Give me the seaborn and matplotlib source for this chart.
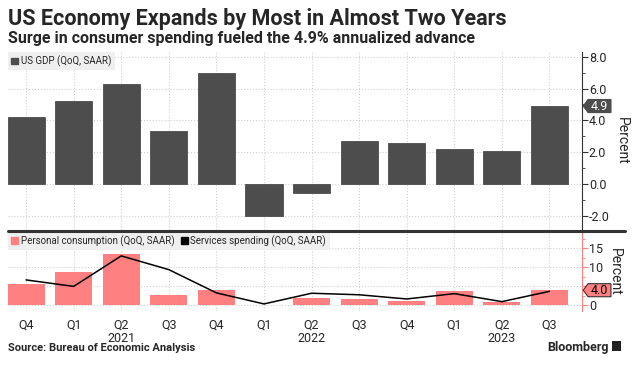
import numpy as np
import seaborn as sns
import matplotlib.pyplot as plt
import matplotlib.transforms as mtransforms
from matplotlib import font_manager
from matplotlib.patches import Patch, Polygon, Rectangle
from matplotlib.lines import Line2D
from matplotlib.ticker import MultipleLocator, FormatStrFormatter

periods = ["2020Q4", "2021Q1", "2021Q2", "2021Q3", "2021Q4", "2022Q1",
           "2022Q2", "2022Q3", "2022Q4", "2023Q1", "2023Q2", "2023Q3"]
tick_labels = ["Q4", "Q1", "Q2\n2021", "Q3", "Q4", "Q1",
               "Q2\n2022", "Q3", "Q4", "Q1", "Q2\n2023", "Q3"]
gdp = [4.2, 5.2, 6.3, 3.3, 7.0, -2.0, -0.6, 2.7, 2.6, 2.2, 2.1, 4.9]
consumption = [5.6, 8.8, 13.6, 2.7, 4.0, 0.1, 2.0, 1.6, 1.2, 3.8, 0.8, 4.0]
services = [6.7, 5.0, 13.0, 9.4, 3.3, 0.4, 3.2, 2.8, 1.7, 3.1, 1.0, 3.7]
cons_ticks = [0, 5, 10, 15]
cons_tick_labels = ["0", "", "10", "15"]  # the 5 sits under the value tag

GDP_COLOR = "#4d4d4d"
PINK = "#ff8080"
DARK = "#333333"

sns.set_style("white")
names = {f.name for f in font_manager.fontManager.ttflist}
base = "Liberation Sans Narrow" if "Liberation Sans Narrow" in names else "Roboto"
plt.rcParams["font.family"] = [base, "DejaVu Sans"]

fig = plt.figure(figsize=(6.39, 3.74), dpi=100)
ax1 = fig.add_axes([0.0125, 0.385, 0.898, 0.476])
ax2 = fig.add_axes([0.0125, 0.168, 0.898, 0.212])

# --- top panel: GDP
sns.barplot(x=periods, y=gdp, color=GDP_COLOR, saturation=1, width=0.78,
            edgecolor="#3a3a3a", linewidth=0.5, ax=ax1, zorder=2)

# --- bottom panel: consumption bars + services line
sns.barplot(x=periods, y=consumption, color=PINK, saturation=1, width=0.78,
            linewidth=0, ax=ax2, zorder=2)
sns.lineplot(x=np.arange(len(services)), y=services, color="black",
             linewidth=1.1, ax=ax2, zorder=3)

for ax in (ax1, ax2):
    ax.set_xlim(-0.38, 11.68)
    ax.set_axisbelow(True)
    ax.grid(True, linestyle=":", color="#cfcfcf", linewidth=0.8)
    for s in ("top", "left", "bottom"):
        ax.spines[s].set_visible(False)
    ax.yaxis.tick_right()
    ax.yaxis.set_label_position("right")
    ax.set_ylabel("Percent", rotation=270, fontsize=10, labelpad=14)
    ax.tick_params(axis="x", length=0)
    ax.tick_params(axis="y", which="both", direction="out", labelsize=9, pad=1)

ax1.set_ylim(-2.9, 8.3)
ax1.yaxis.set_major_locator(MultipleLocator(2))
ax1.yaxis.set_minor_locator(MultipleLocator(1))
ax1.yaxis.set_major_formatter(FormatStrFormatter("%.1f"))
ax1.spines["right"].set_color(DARK)
ax1.tick_params(axis="y", which="major", length=4, color=DARK)
ax1.tick_params(axis="y", which="minor", length=2, color=DARK)
ax1.tick_params(axis="x", labelbottom=False)
ax1.set_xlabel("")

ax2.set_ylim(-1.5, 19.3)
ax2.set_yticks(cons_ticks, cons_tick_labels)
ax2.yaxis.set_minor_locator(MultipleLocator(2.5))
ax2.spines["right"].set_color(PINK)
ax2.tick_params(axis="y", which="major", length=4, color=PINK)
ax2.tick_params(axis="y", which="minor", length=2, color=PINK)
ax2.set_xticks(range(len(periods)))
ax2.set_xticklabels(tick_labels, fontsize=9, linespacing=1.05)
ax2.tick_params(axis="x", pad=5)
ax2.set_xlabel("")

# legends
ax1.legend(handles=[Patch(color=GDP_COLOR, label="US GDP (QoQ, SAAR)")],
           loc="upper left", bbox_to_anchor=(0, 1), frameon=True,
           facecolor="#efefef", edgecolor="none", framealpha=1, fancybox=False,
           fontsize=7, handlelength=0.7, handleheight=0.7, handletextpad=0.3,
           borderaxespad=0, borderpad=0.35)
ax2.legend(handles=[Patch(color=PINK, label="Personal consumption (QoQ, SAAR)"),
                    Patch(color="black", label="Services spending (QoQ, SAAR)")],
           loc="upper left", bbox_to_anchor=(0, 1), ncol=2, frameon=True,
           facecolor="#efefef", edgecolor="none", framealpha=1, fancybox=False,
           fontsize=7, handlelength=0.7, handleheight=0.7, handletextpad=0.3,
           columnspacing=0.6, borderaxespad=0, borderpad=0.35)


def value_tag(ax, value, face, edge, txt_color):
    anchor = mtransforms.blended_transform_factory(ax.transAxes, ax.transData)
    trans = (mtransforms.Affine2D().scale(fig.dpi / 72)
             + mtransforms.ScaledTranslation(1.0, value, anchor))
    verts = [(1, 0), (4.5, -4.7), (21, -4.7), (21, 4.7), (4.5, 4.7)]
    tag = Polygon(verts, closed=True, facecolor=face, edgecolor=edge,
                  linewidth=0.8, transform=trans, clip_on=False, zorder=5)
    ax.add_patch(tag)
    ax.text(12.5, 0, f"{value:.1f}", transform=trans, ha="center", va="center",
            fontsize=9, color=txt_color, zorder=6, clip_on=False)


value_tag(ax1, gdp[-1], GDP_COLOR, GDP_COLOR, "white")
value_tag(ax2, consumption[-1], PINK, DARK, "black")

# separator between panels
fig.add_artist(Line2D([0.0125, 0.978], [0.3825, 0.3825], transform=fig.transFigure,
                      color=DARK, linewidth=2.2))

# titles and footer
fig.text(0.0125, 0.933, "US Economy Expands by Most in Almost Two Years",
         fontsize=15.5, weight="bold", va="baseline")
fig.text(0.0125, 0.884, "Surge in consumer spending fueled the 4.9% annualized advance",
         fontsize=11.5, weight="bold", va="baseline")
fig.text(0.0125, 0.062, "Source: Bureau of Economic Analysis",
         fontsize=8, weight="bold", va="baseline")
fig.text(0.952, 0.062, "Bloomberg", fontsize=9, weight="bold", va="baseline", ha="right")
fig.add_artist(Rectangle((0.958, 0.061), 0.014, 0.026, transform=fig.transFigure,
                         facecolor="#222222", edgecolor="none"))

fig.savefig("out.png", dpi=100)
